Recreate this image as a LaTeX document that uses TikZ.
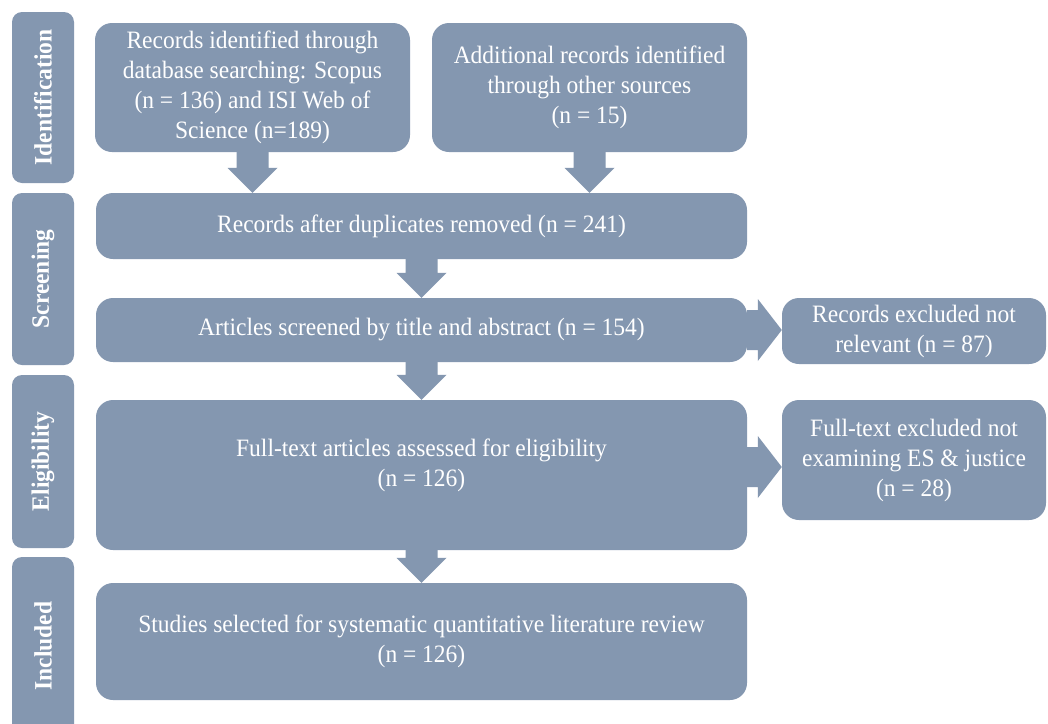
\documentclass[tikz,border=0pt]{standalone}
\usepackage{fontspec}
\setmainfont{Liberation Serif}[FakeStretch=0.94]
\usetikzlibrary{calc}
\definecolor{boxc}{HTML}{8497B0}
\newcommand\downflow[2]{%
  \fill[flow] let \p1=(#1), \p2=(#2) in
    (\x1-16pt,\y1) -- (\x1-16pt,\y2+25pt) -- (\x1-25pt,\y2+25pt) -- (\x1,\y2)
    -- (\x1+25pt,\y2+25pt) -- (\x1+16pt,\y2+25pt) -- (\x1+16pt,\y1) -- cycle;}
\newcommand\rightflow[2]{%
  \fill[flow] let \p1=(#1), \p2=(#2) in
    (\x1,\y1+20pt) -- (\x2-24pt,\y1+20pt) -- (\x2-24pt,\y1+31pt) -- (\x2,\y1)
    -- (\x2-24pt,\y1-31pt) -- (\x2-24pt,\y1-20pt) -- (\x1,\y1-20pt) -- cycle;}
\begin{document}
\begin{tikzpicture}[x=1pt,y=-1pt,
  box/.style={fill=boxc, rounded corners=17pt, text=white, align=center,
    font=\fontsize{25}{30}\selectfont, inner sep=0pt},
  phase/.style={fill=boxc, rounded corners=10pt, text=white,
    font=\fontsize{25}{28}\selectfont\bfseries, inner sep=0pt, rotate=90,
    minimum height=62pt},
  flow/.style={fill=boxc}]
\clip (0,0) rectangle (1048,723);
\fill[white] (0,0) rectangle (1048,723);
% phases
\node[phase, minimum width=171pt] (p1) at (43,97.5) {Identification};
\node[phase, minimum width=172pt] (p2) at (43,279) {Screening};
\node[phase, minimum width=173pt] (p3) at (43,461.5) {Eligibility};
\node[phase, minimum width=178pt] (p4) at (43,646) {Included};
% boxes
\node[box, minimum width=315pt, minimum height=129pt] (b1) at (252.5,87.5)
  {Records identified through\\database searching: Scopus\\(n = 136) and ISI Web of\\Science (n=189)};
\node[box, minimum width=315pt, minimum height=129pt] (b2) at (589.5,87.5)
  {Additional records identified\\through other sources\\(n = 15)};
\node[box, minimum width=651pt, minimum height=66pt] (b3) at (421.5,226)
  {Records after duplicates removed (n = 241)};
\node[box, minimum width=651pt, minimum height=64pt] (b4) at (421.5,330)
  {Articles screened by title and abstract (n = 154)};
\node[box, minimum width=264pt, minimum height=66pt] (b5) at (914,331)
  {Records excluded not\\relevant (n = 87)};
\node[box, minimum width=651pt, minimum height=150pt, text depth=24pt] (b6) at (421.5,475)
  {Full-text articles assessed for eligibility\\(n = 126)};
\node[box, minimum width=264pt, minimum height=120pt] (b7) at (914,460)
  {Full-text excluded not\\examining ES \& justice\\(n = 28)};
\node[box, minimum width=651pt, minimum height=117pt] (b8) at (421.5,641.5)
  {Studies selected for systematic quantitative literature review\\(n = 126)};
% flows
\downflow{b1.south}{b1.south |- b3.north}
\downflow{b2.south}{b2.south |- b3.north}
\downflow{b3.south}{b3.south |- b4.north}
\downflow{b4.south}{b4.south |- b6.north}
\downflow{b6.south}{b6.south |- b8.north}
\rightflow{b4.east}{b5.west}
\rightflow{$(b6.east)+(0,-8)$}{b7.west}
\end{tikzpicture}
\end{document}
